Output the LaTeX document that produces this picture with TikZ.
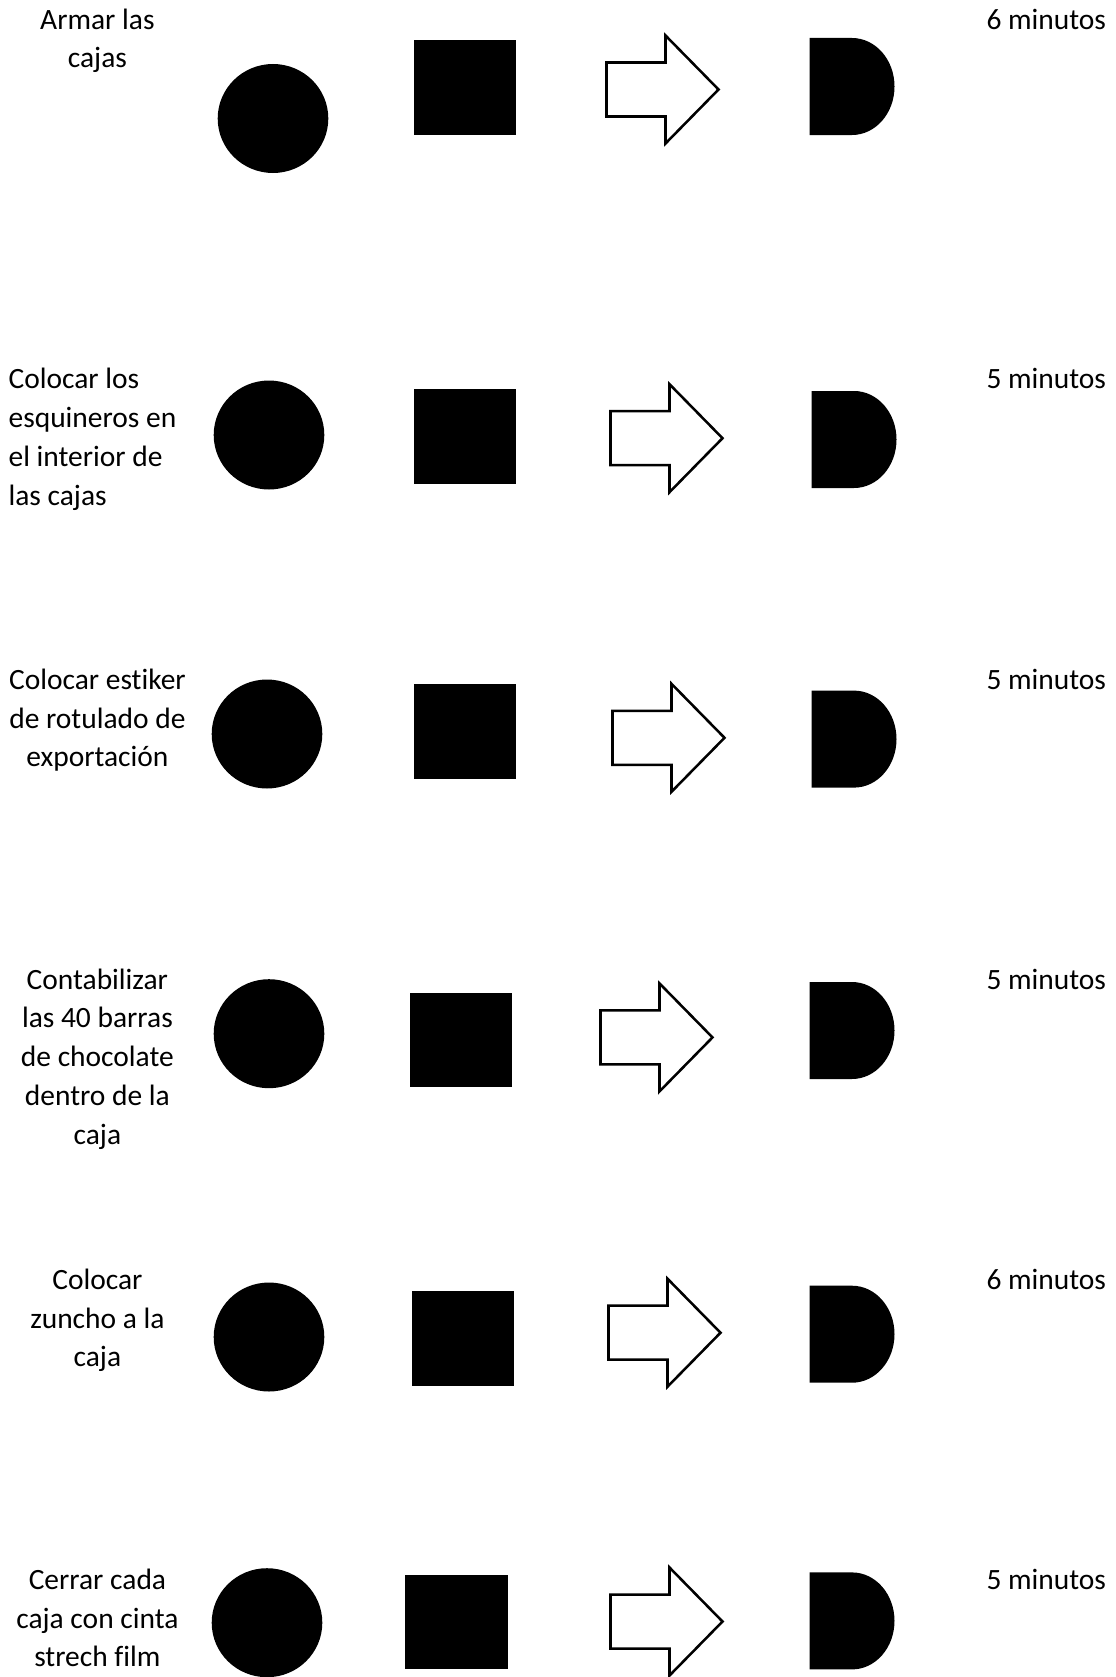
\documentclass[tikz,border=0pt]{standalone}
\usepackage{fontspec}
\setmainfont[Ligatures=NoCommon]{Carlito}
\tikzset{
  blackshape/.style={fill=black,draw=none},
  arrowshape/.style={draw=black,fill=white,line width=1.9pt,line join=miter},
  lbl/.style={anchor=north,inner sep=0pt,outer sep=0pt,align=center,font=\fontsize{22.1}{29.05}\selectfont,text=black},
  lblleft/.style={lbl,anchor=north west,align=left},
  lblright/.style={lbl,anchor=north east,align=right}
}
\newcommand{\fs}{\rule{0pt}{20pt}}
\newcommand{\rowshapes}[9]{%
  % #1 name; #2,#3 circle centre; #4,#5 square top-left; #6,#7 arrow left,cy; #8,#9 D left,top
  \path[blackshape] (#2,#3) ellipse [x radius=55.3,y radius=54.5];
  \path[blackshape] (#4,#5) rectangle ++(102.5,94.5);
  \draw[arrowshape] (#6,#7) ++(0,-27) -- ++(59,0) -- ++(0,-27) -- ++(53,54) -- ++(-53,54) -- ++(0,-27) -- ++(-59,0) -- cycle;
  \path[blackshape] (#8,#9) -- ++(42.5,0) .. controls +(23.5,0) and +(0,-26.8) .. ++(42.5,48.5) .. controls +(0,26.8) and +(23.5,0) .. ++(-42.5,48.5) -- ++(-42.5,0) -- cycle;
}
\begin{document}
\begin{tikzpicture}[x=0.75pt,y=-0.75pt]
\useasboundingbox (0,0) rectangle (1116,1677);
\fill[white] (0,0) rectangle (1116,1677);
\rowshapes{a}{273}{118.5}{413.5}{40}{606.5}{89.5}{809.5}{38}
\rowshapes{b}{269}{435}{413.5}{389}{610.5}{438.2}{811.5}{391}
\rowshapes{c}{267}{734}{413.5}{684.3}{612.5}{737.8}{811.5}{690.6}
\rowshapes{d}{269}{1033.7}{409.5}{992.5}{600.5}{1037.4}{809.5}{982}
\rowshapes{e}{269}{1337}{411.5}{1291}{608.5}{1332.7}{809.5}{1285.7}
\rowshapes{f}{267}{1622.7}{405}{1574.5}{610.5}{1621.5}{809.5}{1572.4}
\node[lbl] (t1) at (97.4,2.6) {\fs Armar las\\cajas};
\node[lblleft] (t2) at (8.6,362.2) {\fs Colocar los\\esquineros en\\el interior de\\las cajas};
\node[lbl] (t3) at (97.4,662.8) {\fs Colocar estiker\\de rotulado de\\exportación};
\node[lbl] (t4) at (97.4,962.4) {\fs Contabilizar\\las 40 barras\\de chocolate\\dentro de la\\caja};
\node[lbl] (t5) at (97.4,1262.8) {\fs Colocar\\zuncho a la\\caja};
\node[lbl] (t6) at (97.4,1562.8) {\fs Cerrar cada\\caja con cinta\\strech film};
\node[lblright] (m1) at (1106,2.6) {\fs 6 minutos};
\node[lblright] (m2) at (1106,362.2) {\fs 5 minutos};
\node[lblright] (m3) at (1106,662.8) {\fs 5 minutos};
\node[lblright] (m4) at (1106,962.4) {\fs 5 minutos};
\node[lblright] (m5) at (1106,1262.8) {\fs 6 minutos};
\node[lblright] (m6) at (1106,1562.8) {\fs 5 minutos};
\end{tikzpicture}
\end{document}
